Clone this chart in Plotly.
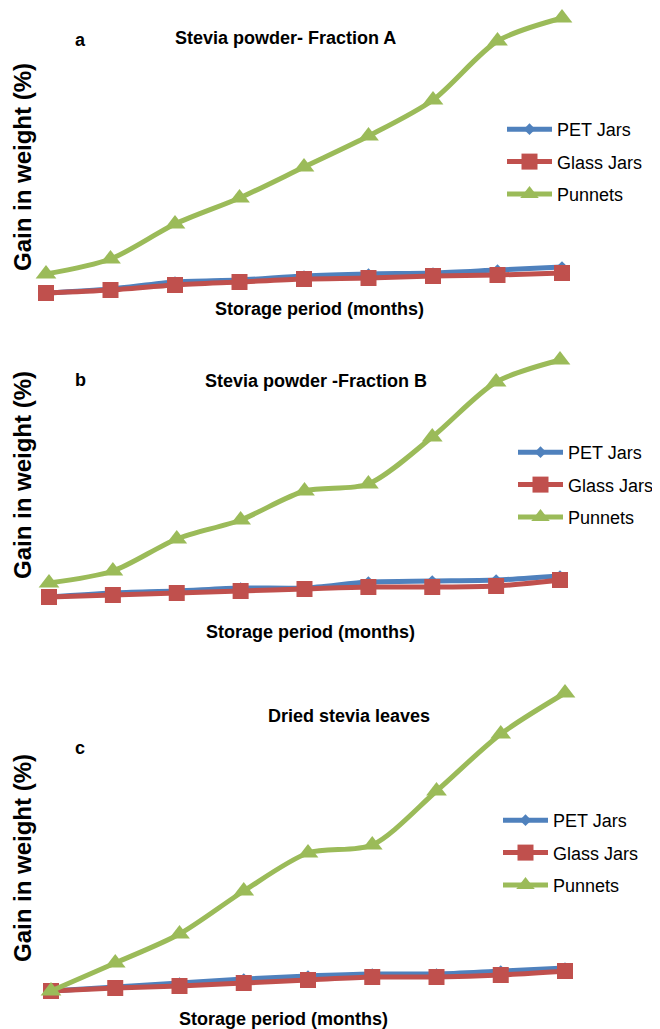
import plotly.graph_objects as go

months = [0, 1, 2, 3, 4, 5, 6, 7, 8]
series_names = ["PET Jars", "Glass Jars", "Punnets"]

# Panel a: Stevia powder - Fraction A
a_pet = [0.7, 1.1, 1.8, 2.0, 2.4, 2.6, 2.7, 3.0, 3.3]
a_glass = [0.7, 1.0, 1.5, 1.8, 2.1, 2.2, 2.4, 2.5, 2.7]
a_punnets = [2.6, 4.1, 7.6, 10.2, 13.3, 16.4, 20.0, 25.9, 28.2]

# Panel b: Stevia powder - Fraction B
b_pet = [0.8, 1.2, 1.4, 1.7, 1.7, 2.3, 2.4, 2.5, 2.9]
b_glass = [0.8, 1.0, 1.2, 1.4, 1.6, 1.8, 1.8, 1.9, 2.5]
b_punnets = [2.2, 3.4, 6.6, 8.5, 11.4, 12.1, 16.8, 22.3, 24.5]

# Panel c: Dried stevia leaves
c_pet = [0.9, 1.3, 1.7, 2.1, 2.4, 2.6, 2.6, 2.9, 3.2]
c_glass = [0.9, 1.2, 1.4, 1.7, 2.0, 2.3, 2.3, 2.5, 2.9]
c_punnets = [0.9, 3.7, 6.6, 10.9, 14.7, 15.5, 20.9, 26.6, 30.7]

panel_titles = ["Stevia powder- Fraction A", "Stevia powder -Fraction B", "Dried stevia leaves"]
panel_letters = ["a", "b", "c"]
x_title = "Storage period (months)"
y_title = "Gain in weight (%)"

# The page body has an 8px margin, so the figure covers window pixels 8..660 / 8..1029
OFF = 8
WIN_W, WIN_H = 660, 1029
W, H = WIN_W - OFF, WIN_H - OFF
COLORS = {"PET Jars": "#4F81BD", "Glass Jars": "#C0504D", "Punnets": "#9BBB59"}
SYMBOLS = {"PET Jars": "diamond", "Glass Jars": "square", "Punnets": "triangle-up"}
SIZES = {"PET Jars": 9, "Glass Jars": 16, "Punnets": 18}
PX_PER_UNIT = 10.0


def py(p):
    return 1 - (p - OFF) / H


def px(p):
    return (p - OFF) / W


panels = [
    (a_pet, a_glass, a_punnets),
    (b_pet, b_glass, b_punnets),
    (c_pet, c_glass, c_punnets),
]

# window-pixel layout per panel: vertical domain, pixel of zero, pixel of first/last month
cfg = [
    dict(top=8, bottom=330, zero=300, x0=46, x8=562),
    dict(top=340, bottom=660, zero=605, x0=49, x8=560),
    dict(top=670, bottom=1029, zero=1000, x0=51, x8=565),
]

fig = go.Figure()
for i, (vals, c) in enumerate(zip(panels, cfg)):
    k = "" if i == 0 else str(i + 1)
    leg = "legend" if i == 0 else f"legend{i + 1}"
    for name, v in zip(series_names, vals):
        fig.add_trace(go.Scatter(
            x=months, y=v, name=name, mode="lines+markers",
            xaxis="x" + k, yaxis="y" + k, legend=leg,
            legendgroup=f"{name}{i}",
            line=dict(color=COLORS[name], width=5, shape="spline", smoothing=0.8),
            marker=dict(symbol=SYMBOLS[name], size=SIZES[name], color=COLORS[name]),
            cliponaxis=False,
        ))
    s = (c["x8"] - c["x0"]) / 8
    xr = [0 - (c["x0"] - OFF) / s, 8 + (WIN_W - c["x8"]) / s]
    yr = [(c["zero"] - c["bottom"]) / PX_PER_UNIT, (c["zero"] - c["top"]) / PX_PER_UNIT]
    fig.layout["xaxis" + k] = dict(domain=[0, 1], range=xr, visible=False, anchor="y" + k)
    fig.layout["yaxis" + k] = dict(domain=[py(c["bottom"]), py(c["top"])],
                                   range=yr, visible=False, anchor="x" + k)

legend_pos = [(502, 111), (513, 434), (498, 802)]
for i, (lx, ly) in enumerate(legend_pos):
    key = "legend" if i == 0 else f"legend{i + 1}"
    fig.layout[key] = dict(
        x=px(lx), y=py(ly), xanchor="left", yanchor="top",
        font=dict(family="Liberation Sans, Arial", size=18, color="#000"),
        bgcolor="rgba(0,0,0,0)", tracegroupgap=6, traceorder="grouped",
        itemwidth=45,
    )

bold = dict(family="Liberation Sans, Arial", size=18, color="#000", weight="bold")
ann = []
titles_pos = [(285, 38), (316, 381), (349, 716)]
letters_pos = [(80, 40), (80, 380), (80, 748)]
xt_pos = [(319, 309), (310, 632), (283, 1019)]
yt_pos = [(22, 167), (22, 475), (22, 858)]
for i in range(3):
    ann.append(dict(text=panel_titles[i], x=px(titles_pos[i][0]), y=py(titles_pos[i][1]),
                    xref="paper", yref="paper", showarrow=False, font=bold,
                    xanchor="center", yanchor="middle"))
    ann.append(dict(text=panel_letters[i], x=px(letters_pos[i][0]), y=py(letters_pos[i][1]),
                    xref="paper", yref="paper", showarrow=False, font=bold,
                    xanchor="center", yanchor="middle"))
    ann.append(dict(text=x_title, x=px(xt_pos[i][0]), y=py(xt_pos[i][1]),
                    xref="paper", yref="paper", showarrow=False, font=bold,
                    xanchor="center", yanchor="middle"))
    ann.append(dict(text=y_title, x=px(yt_pos[i][0]), y=py(yt_pos[i][1]),
                    xref="paper", yref="paper", showarrow=False,
                    font=dict(bold, size=24), textangle=-90,
                    xanchor="center", yanchor="middle"))

fig.update_layout(
    width=W, height=H, margin=dict(l=0, r=0, t=0, b=0),
    paper_bgcolor="white", plot_bgcolor="white",
    annotations=ann, showlegend=True,
)

fig.write_html("out.html")
